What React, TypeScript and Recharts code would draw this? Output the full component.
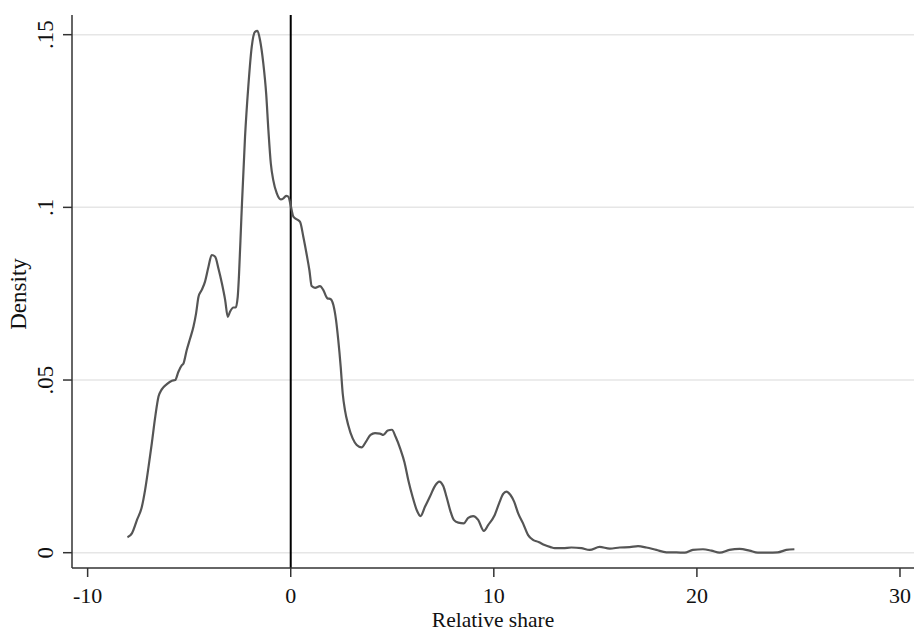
import React from "react";
import {
  LineChart,
  Line,
  XAxis,
  YAxis,
  ReferenceLine,
  Label,
} from "recharts";

const xValues: number[] = [
  -8.04, -7.82, -7.57, -7.33, -7.17, -7.0, -6.84, -6.67, -6.51, -6.35, -6.1,
  -5.85, -5.69, -5.53, -5.36, -5.28, -5.12, -4.95, -4.79, -4.66, -4.54, -4.38,
  -4.22, -4.05, -3.89, -3.72, -3.56, -3.39, -3.23, -3.1, -2.99, -2.82, -2.71,
  -2.61, -2.55, -2.43, -2.25, -2.09, -1.92, -1.76, -1.64, -1.51, -1.35, -1.21,
  -1.1, -0.98, -0.86, -0.69, -0.49, -0.36, -0.23, -0.12, 0.0, 0.13, 0.3, 0.46,
  0.62, 0.79, 0.92, 1.03, 1.2, 1.44, 1.6, 1.8, 1.97, 2.1, 2.23, 2.34, 2.46,
  2.56, 2.67, 2.83, 3.05, 3.25, 3.49, 3.7, 3.93, 4.15, 4.39, 4.56, 4.78, 4.98,
  5.17, 5.4, 5.6, 5.79, 6.0, 6.2, 6.39, 6.61, 6.85, 7.1, 7.31, 7.51, 7.67,
  7.87, 8.03, 8.25, 8.52, 8.74, 8.98, 9.23, 9.51, 9.72, 10.02, 10.26, 10.46,
  10.62, 10.82, 11.0, 11.2, 11.44, 11.69, 11.93, 12.2, 12.5, 12.8, 13.0, 13.41,
  13.82, 14.31, 14.72, 15.21, 15.71, 16.2, 16.69, 17.1, 17.51, 18.0, 18.5,
  18.99, 19.4, 19.8, 20.3, 20.71, 21.12, 21.6, 22.1, 22.59, 23.0, 23.49, 23.98,
  24.4, 24.8,
];

const densityValues: number[] = [
  0.0045, 0.0056, 0.0095, 0.0133, 0.0182, 0.0249, 0.0317, 0.0394, 0.0452,
  0.0473, 0.0488, 0.0498, 0.05, 0.0524, 0.0543, 0.0548, 0.0587, 0.0621, 0.0654,
  0.0693, 0.0741, 0.0761, 0.0785, 0.0828, 0.0862, 0.0857, 0.0823, 0.078,
  0.0732, 0.0683, 0.0698, 0.071, 0.071, 0.0741, 0.08, 0.097, 0.1204, 0.1349,
  0.1465, 0.1508, 0.1511, 0.1484, 0.1417, 0.133, 0.1224, 0.1127, 0.1079,
  0.1041, 0.1023, 0.1026, 0.1033, 0.1031, 0.1005, 0.0973, 0.0965, 0.0958,
  0.0915, 0.0862, 0.0818, 0.0772, 0.0767, 0.0772, 0.0761, 0.0737, 0.0734,
  0.0717, 0.0674, 0.0616, 0.0539, 0.0461, 0.0413, 0.037, 0.0331, 0.0312,
  0.0305, 0.0321, 0.0341, 0.0346, 0.0345, 0.0341, 0.0354, 0.0356, 0.0335,
  0.03, 0.0262, 0.021, 0.0162, 0.0124, 0.0106, 0.0133, 0.0162, 0.0193, 0.0206,
  0.0193, 0.0162, 0.0119, 0.0095, 0.0087, 0.0085, 0.0101, 0.0106, 0.0095,
  0.0063, 0.008, 0.0106, 0.0143, 0.017, 0.0177, 0.0167, 0.0148, 0.0114, 0.0085,
  0.0051, 0.0037, 0.0031, 0.0022, 0.0016, 0.0013, 0.0013, 0.0015, 0.0013,
  0.0008, 0.0017, 0.0012, 0.0015, 0.0016, 0.0019, 0.0015, 0.0008, 0.0001,
  0.0001, 0.0, 0.0008, 0.001, 0.0006, 0.0, 0.0008, 0.0011, 0.0006, 0.0, 0.0,
  0.0001, 0.0008, 0.001,
];

const xTicks: number[] = [-10, 0, 10, 20, 30];
const yTicks: number[] = [0, 0.05, 0.1, 0.15];
const yTickLabels: string[] = ["0", ".05", ".1", ".15"];

const xLabel = "Relative share";
const yLabel = "Density";

const data = xValues.map((x, i) => ({ x, density: densityValues[i] }));

const FONT = "'Liberation Serif', 'Times New Roman', serif";

const XTick = (props: any) => {
  const { x, payload } = props;
  return (
    <text
      x={x}
      y={603}
      textAnchor="middle"
      fontFamily={FONT}
      fontSize={22}
      fill="#111"
    >
      {String(payload.value)}
    </text>
  );
};

const YTick = (props: any) => {
  const { y, payload } = props;
  const idx = yTicks.indexOf(payload.value);
  const label = idx >= 0 ? yTickLabels[idx] : String(payload.value);
  const bx = 53;
  return (
    <text
      x={bx}
      y={y}
      transform={`rotate(-90 ${bx} ${y})`}
      textAnchor="middle"
      fontFamily={FONT}
      fontSize={23}
      fill="#111"
    >
      {label}
    </text>
  );
};

export default function App() {
  return (
    <div
      style={{
        position: "absolute",
        left: 0,
        top: 0,
        width: 914,
        height: 632,
        background: "#fff",
      }}
    >
      <LineChart
        width={914}
        height={632}
        data={data}
        margin={{ top: 15, right: 0, bottom: 0, left: 0 }}
      >
        {yTicks.map((t) => (
          <ReferenceLine
            key={`grid-${t}`}
            y={t}
            stroke="#e6e6e6"
            strokeWidth={1.5}
          />
        ))}
        <XAxis
          dataKey="x"
          type="number"
          domain={[-10.77, 30.69]}
          ticks={xTicks}
          allowDataOverflow
          height={64}
          tickSize={9}
          tick={<XTick />}
          axisLine={{ stroke: "#333", strokeWidth: 1.5 }}
          tickLine={{ stroke: "#333", strokeWidth: 1.5 }}
        >
          <Label
            content={() => (
              <text
                x={493}
                y={627}
                textAnchor="middle"
                fontFamily={FONT}
                fontSize={21.5}
                fill="#111"
              >
                {xLabel}
              </text>
            )}
          />
        </XAxis>
        <YAxis
          type="number"
          domain={[-0.00443, 0.1557]}
          ticks={yTicks}
          allowDataOverflow
          width={72}
          tickSize={9}
          tick={<YTick />}
          axisLine={{ stroke: "#333", strokeWidth: 1.5 }}
          tickLine={{ stroke: "#333", strokeWidth: 1.5 }}
        >
          <Label
            content={() => (
              <text
                x={25.5}
                y={294}
                transform={`rotate(-90 25.5 294)`}
                textAnchor="middle"
                fontFamily={FONT}
                fontSize={23}
                fill="#111"
              >
                {yLabel}
              </text>
            )}
          />
        </YAxis>
        <ReferenceLine x={0} stroke="#000" strokeWidth={2} />
        <Line
          type="monotone"
          dataKey="density"
          stroke="#555"
          strokeWidth={2.2}
          dot={false}
          isAnimationActive={false}
        />
      </LineChart>
    </div>
  );
}
